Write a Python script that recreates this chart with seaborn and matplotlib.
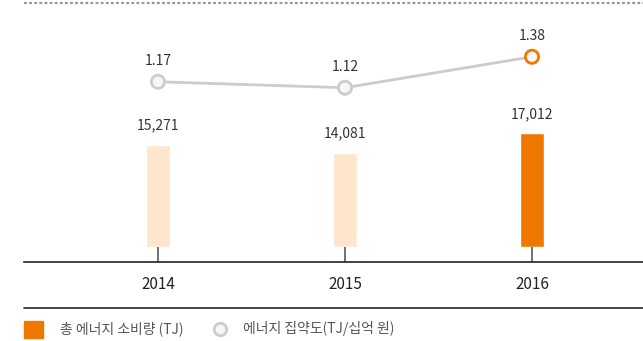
import matplotlib
matplotlib.use("Agg")
import matplotlib.pyplot as plt
import seaborn as sns
import pandas as pd

# Data
years = ["2014", "2015", "2016"]
consumption_tj = [15271, 14081, 17012]
intensity = [1.17, 1.12, 1.38]
bar_colors = ["#FDE5CE", "#FDE5CE", "#F07800"]
marker_edges = ["#CFCBCB", "#CFCBCB", "#F07800"]
legend_labels = ["총 에너지 소비량 (TJ)", "에너지 집약도(TJ/십억 원)"]

sns.set_theme(style="white")
plt.rcParams["font.family"] = ["Noto Sans CJK KR", "DejaVu Sans"]

W, H = 643, 341
fig = plt.figure(figsize=(W / 100, H / 100), dpi=100)

# Axes in pixel coordinates: left 24, right 643, top 2, baseline 262
def px_rect(x0, y0, x1, y1):
    return [x0 / W, 1 - y1 / H, (x1 - x0) / W, (y1 - y0) / H]

ax = fig.add_axes(px_rect(24, 2, 643, 262))
df = pd.DataFrame({"year": years, "tj": consumption_tj})
sns.barplot(data=df, x="year", y="tj", hue="year", palette=bar_colors,
            legend=False, width=0.123, ax=ax, saturation=1)

spacing = 187.0
ax.set_xlim(-(158 - 24) / spacing, (643 - 158) / spacing)
units_per_px = 17012 / 114.0
ax.set_ylim(-15 * units_per_px, 245 * units_per_px)

for i, v in enumerate(consumption_tj):
    ax.text(i, v + 12 * units_per_px, f"{v:,}", ha="center", va="bottom",
            fontsize=10, color="#333333")
    # small tick below each bar
    ax.plot([i, i], [-15 * units_per_px, 0], color="#666666", lw=1.3,
            solid_capstyle="butt", zorder=1)

for s in ["top", "right", "left"]:
    ax.spines[s].set_visible(False)
ax.spines["bottom"].set_color("#222222")
ax.spines["bottom"].set_linewidth(1.2)
ax.set_yticks([])
ax.set_xlabel("")
ax.set_ylabel("")
ax.tick_params(axis="x", length=0, pad=10, labelsize=11, labelcolor="#222222")

# Intensity line on a twin axis
ax2 = ax.twinx()
k = 119.0
ax2.set_ylim(-(262 - 221) / k, (221 - 2) / k)
xs = list(range(len(years)))
sns.lineplot(x=xs, y=intensity, ax=ax2, color="#CCCCCC", lw=2, zorder=2)
ax2.scatter(xs, intensity, s=90, facecolors="#F7F5F5", edgecolors=marker_edges,
            linewidths=2, zorder=3)
for i, v in enumerate(intensity):
    ax2.text(i, v + 14 / k, f"{v:.2f}", ha="center", va="bottom",
             fontsize=10, color="#333333")
ax2.set_yticks([])
for s in ax2.spines.values():
    s.set_visible(False)
ax2.set_xlim(ax.get_xlim())

# Dotted rule at the top and separator above the legend
fig.add_artist(plt.Line2D([24 / W, 1], [1 - 3 / H, 1 - 3 / H], color="#9A9A9A",
                          lw=1.6, linestyle=(0, (1.3, 1.0)),
                          transform=fig.transFigure))
fig.add_artist(plt.Line2D([24 / W, 1], [1 - 308 / H, 1 - 308 / H],
                          color="#222222", lw=1.2, transform=fig.transFigure))

# Legend
fig.add_artist(plt.Rectangle((24 / W, 1 - 338 / H), 19 / W, 17 / H,
                             color="#F07800", transform=fig.transFigure))
fig.text(60 / W, 1 - 329 / H, legend_labels[0], fontsize=10, color="#555555",
         va="center", ha="left")
fig.add_artist(plt.Line2D([220 / W], [1 - 329 / H], marker="o", markersize=9,
                          markerfacecolor="#F7F5F5", markeredgecolor="#CFCBCB",
                          markeredgewidth=2, transform=fig.transFigure))
fig.text(243 / W, 1 - 329 / H, legend_labels[1], fontsize=10, color="#555555",
         va="center", ha="left")

fig.savefig("out.png", dpi=100)
